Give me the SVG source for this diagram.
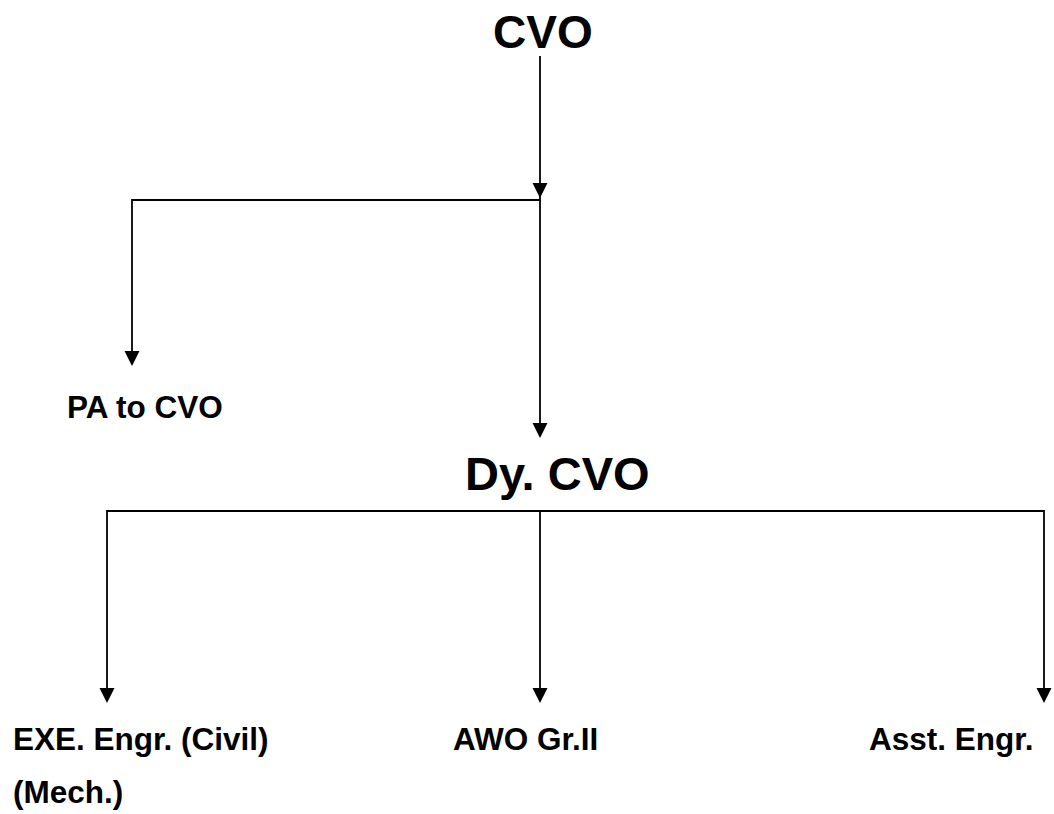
<svg xmlns="http://www.w3.org/2000/svg" width="1054" height="814" viewBox="0 0 1054 814">
<style>
.lbl{font-family:"Liberation Sans",Arial,sans-serif;font-weight:bold;fill:#000}
.big{font-size:46px}
.small{font-size:31.5px}
.ln{stroke:#000;stroke-width:1.8;fill:none}
.ah{fill:#000}
</style>
<rect width="1054" height="814" fill="#fff"/>
<g id="connectors">
<line class="ln" x1="540" y1="56" x2="540" y2="184"/>
<polygon class="ah" points="532.5,183 547.5,183 540,198"/>
<polyline class="ln" points="540,184 540,200 132,200 132,352"/>
<polygon class="ah" points="124.5,351 139.5,351 132,366"/>
<line class="ln" x1="540" y1="200" x2="540" y2="424"/>
<polygon class="ah" points="532.5,423 547.5,423 540,438"/>
<polyline class="ln" points="107,689 107,511 1044,511 1044,689"/>
<line class="ln" x1="540" y1="511" x2="540" y2="689"/>
<polygon class="ah" points="99.5,688 114.5,688 107,703"/>
<polygon class="ah" points="532.5,688 547.5,688 540,703"/>
<polygon class="ah" points="1036.5,688 1051.5,688 1044,703"/>
</g>
<g id="cvo"><text class="lbl big" x="493" y="48">CVO</text></g>
<g id="pa"><text class="lbl small" x="67" y="418">PA to CVO</text></g>
<g id="dycvo"><text class="lbl" style="font-size:47px" x="465" y="490">Dy. CVO</text></g>
<g id="exe"><text class="lbl small" x="13" y="750">EXE. Engr. (Civil)</text><text class="lbl small" x="13" y="803">(Mech.)</text></g>
<g id="awo"><text class="lbl small" x="453" y="750">AWO Gr.II</text></g>
<g id="asst"><text class="lbl small" x="869" y="750">Asst. Engr.</text></g>
</svg>
